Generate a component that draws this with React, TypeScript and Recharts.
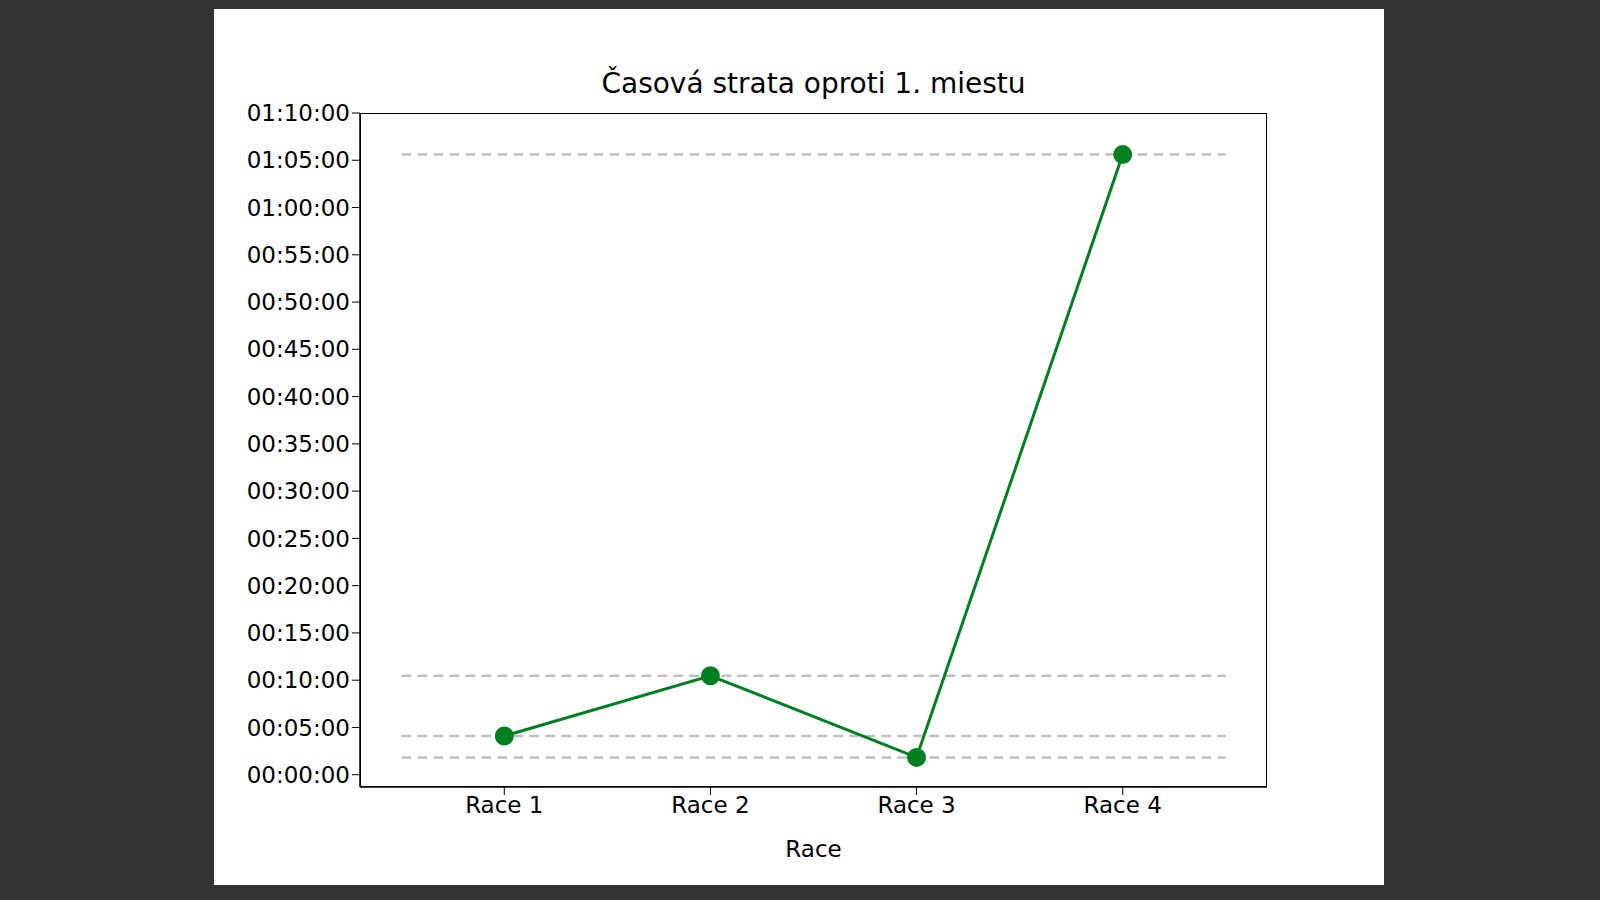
import { LineChart, Line, XAxis, YAxis, ReferenceLine } from "recharts";

const races = ["Race 1", "Race 2", "Race 3", "Race 4"];
const lossSeconds = [246, 628, 110, 3936];
const yTicks = [0, 300, 600, 900, 1200, 1500, 1800, 2100, 2400, 2700, 3000, 3300, 3600, 3900, 4200];

const data = races.map((r, i) => ({ x: i + 1, name: r, loss: lossSeconds[i] }));

const fmt = (s: number) => {
  const h = Math.floor(s / 3600);
  const m = Math.floor((s % 3600) / 60);
  const sec = Math.round(s % 60);
  const p = (n: number) => String(n).padStart(2, "0");
  return `${p(h)}:${p(m)}:${p(sec)}`;
};

const font = "DejaVu Sans, sans-serif";

export default function App() {
  return (
    <div style={{ position: "fixed", inset: 0, background: "#333333", fontFamily: font }}>
      <div style={{ position: "absolute", left: 214, top: 9, width: 1170, height: 876, background: "#fff" }}>
        <div style={{ position: "absolute", top: 58, left: 146, width: 907, textAlign: "center", fontSize: 28, color: "#000" }}>
          Časová strata oproti 1. miestu
        </div>
        <div style={{ position: "absolute", left: 146, top: 104, width: 907, height: 674, border: "1.5px solid #000", boxSizing: "border-box", pointerEvents: "none" }} />
        <LineChart width={1170} height={876} data={data} margin={{ top: 104, left: 16, right: 117, bottom: 18 }}>
          <XAxis
            dataKey="x"
            type="number"
            domain={[0.3, 4.7]}
            ticks={[1, 2, 3, 4]}
            tickFormatter={(v: number) => races[v - 1]}
            tick={{ fontSize: 23, fill: "#000", fontFamily: font }}
            tickLine={{ stroke: "#000" }}
            tickSize={8}
            axisLine={{ stroke: "#000", strokeWidth: 1.5 }}
            height={80}
            label={{ value: "Race", position: "insideBottom", offset: 10, fontSize: 23, fill: "#000", fontFamily: font }}
          />
          <YAxis
            type="number"
            domain={[-78, 4200]}
            ticks={yTicks}
            tickFormatter={fmt}
            tick={{ fontSize: 23, fill: "#000", fontFamily: font }}
            tickLine={{ stroke: "#000" }}
            tickSize={8}
            axisLine={{ stroke: "#000", strokeWidth: 1.5 }}
            width={130}
            allowDataOverflow
          />
          {lossSeconds.map((v, i) => (
            <ReferenceLine
              key={i}
              segment={[{ x: 0.5, y: v }, { x: 4.5, y: v }]}
              stroke="#c0c0c0"
              strokeWidth={2.5}
              strokeDasharray="10 6"
            />
          ))}
          <Line
            dataKey="loss"
            stroke="#008020"
            strokeWidth={3}
            dot={{ r: 8, fill: "#008020", stroke: "#008020" }}
            isAnimationActive={false}
          />
        </LineChart>
      </div>
    </div>
  );
}
